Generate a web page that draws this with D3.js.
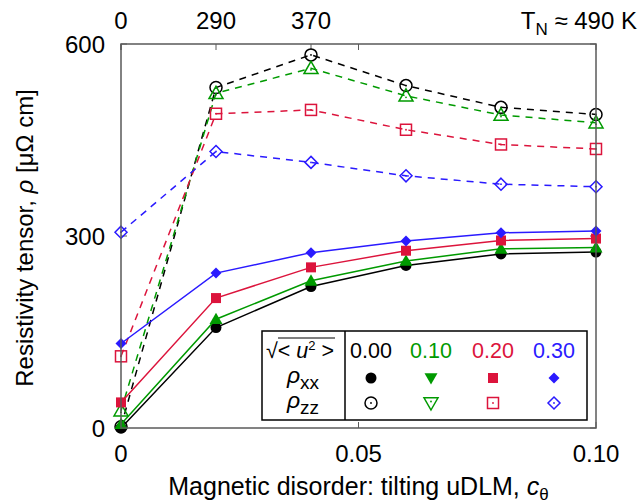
<!DOCTYPE html>
<html><head><meta charset="utf-8">
<script src="https://cdn.jsdelivr.net/npm/d3@7"></script>
<style>
html,body{margin:0;padding:0;background:#fff;}
svg{display:block;font-family:"Liberation Sans",Arial,sans-serif;}
</style></head>
<body><svg id="c" width="642" height="503"></svg>
<script>
// ---- data ----
const cTheta = [0, 0.02, 0.04, 0.06, 0.08, 0.10];
const rmsU = ["0.00", "0.10", "0.20", "0.30"];
const rhoXX_000 = [0, 157, 221, 254, 272, 275];
const rhoXX_010 = [6, 170, 230, 261, 280, 282];
const rhoXX_020 = [40, 203, 251, 277, 293, 296];
const rhoXX_030 = [132, 242, 274, 292, 305, 308];
const rhoZZ_000 = [2, 532, 583, 535, 501, 490];
const rhoZZ_010 = [27, 523, 562, 519, 489, 477];
const rhoZZ_020 = [112, 491, 497, 466, 443, 436];
const rhoZZ_030 = [306, 432, 415, 394, 381, 377];
const xTicks = [0, 0.05, 0.10];
const xTickLabels = ["0", "0.05", "0.10"];
const yTicks = [0, 300, 600];
const topTicks = [0, 0.02, 0.04];
const topTickLabels = ["0", "290", "370"];
const colors = ["#000000", "#009a00", "#dc143c", "#2a1aff"];

const svg = d3.select("#c");
const L = 121, R = 596, T = 44, B = 428;
const x = d3.scaleLinear().domain([0, 0.10]).range([L, R]);
const y = d3.scaleLinear().domain([0, 600]).range([B, T]);

const frameColor = "#5a5a5a";
const fs = 24;

// ticks (inward)
const tk = 6;
const g = svg.append("g");
xTicks.forEach(v => {
  g.append("line").attr("x1", x(v)).attr("x2", x(v)).attr("y1", B).attr("y2", B - tk).attr("stroke", frameColor).attr("stroke-width", 1);
  g.append("line").attr("x1", x(v)).attr("x2", x(v)).attr("y1", T).attr("y2", T + tk).attr("stroke", frameColor).attr("stroke-width", 1);
});
topTicks.forEach(v => {
  g.append("line").attr("x1", x(v)).attr("x2", x(v)).attr("y1", T).attr("y2", T + tk).attr("stroke", frameColor).attr("stroke-width", 1);
});
yTicks.forEach(v => {
  g.append("line").attr("x1", L).attr("x2", L + tk).attr("y1", y(v)).attr("y2", y(v)).attr("stroke", frameColor).attr("stroke-width", 1);
  g.append("line").attr("x1", R).attr("x2", R - tk).attr("y1", y(v)).attr("y2", y(v)).attr("stroke", frameColor).attr("stroke-width", 1);
});

// tick labels
xTicks.forEach((v, i) => {
  svg.append("text").attr("x", x(v)).attr("y", 462).attr("text-anchor", "middle").attr("font-size", fs).text(xTickLabels[i]);
});
topTicks.forEach((v, i) => {
  svg.append("text").attr("x", x(v)).attr("y", 29).attr("text-anchor", "middle").attr("font-size", fs).text(topTickLabels[i]);
});
yTicks.forEach(v => {
  svg.append("text").attr("x", 105).attr("y", y(v) + 8.5).attr("text-anchor", "end").attr("font-size", fs).text(v);
});

// axis labels
const xl = svg.append("text").attr("x", x(0.05)).attr("y", 495).attr("text-anchor", "middle").attr("font-size", 25);
xl.append("tspan").text("Magnetic disorder: tilting uDLM, ");
xl.append("tspan").attr("font-style", "italic").text("c");
xl.append("tspan").attr("font-size", 17).attr("dy", 5).text("θ");

const yl = svg.append("text").attr("transform", `translate(33,${(T + B) / 2 + 2}) rotate(-90)`).attr("text-anchor", "middle").attr("font-size", 24);
yl.append("tspan").text("Resistivity tensor, ");
yl.append("tspan").attr("font-style", "italic").text("ρ");
yl.append("tspan").text(" [μΩ cm]");

const tn = svg.append("text").attr("x", 637).attr("y", 29).attr("text-anchor", "end").attr("font-size", fs);
tn.append("tspan").text("T");
tn.append("tspan").attr("font-size", 17).attr("dy", 6).text("N");
tn.append("tspan").attr("dy", -6).text(" ≈ 490 K");

// markers
function marker(sel, type, cx, cy, col, open) {
  const sw = 1.5;
  let el;
  if (type === "circle") {
    el = sel.append("circle").attr("cx", cx).attr("cy", cy).attr("r", open ? 6 : 5.5);
  } else if (type === "tri" || type === "tridown") {
    const s = open ? 7 : 6.5, d = type === "tri" ? 1 : -1;
    const p = d3.path();
    p.moveTo(cx, cy - d * s * 1.0);
    p.lineTo(cx + s, cy + d * s * 0.75);
    p.lineTo(cx - s, cy + d * s * 0.75);
    p.closePath();
    el = sel.append("path").attr("d", p.toString());
  } else if (type === "square") {
    const s = open ? 5.5 : 5;
    el = sel.append("rect").attr("x", cx - s).attr("y", cy - s).attr("width", 2 * s).attr("height", 2 * s);
  } else if (type === "diamond") {
    const s = open ? 6 : 5.5;
    const p = d3.path();
    p.moveTo(cx, cy - s); p.lineTo(cx + s, cy); p.lineTo(cx, cy + s); p.lineTo(cx - s, cy); p.closePath();
    el = sel.append("path").attr("d", p.toString());
  }
  if (open) {
    el.attr("fill", "#fff").attr("fill-opacity", 0).attr("stroke", col).attr("stroke-width", sw);
    sel.append("circle").attr("cx", cx).attr("cy", cy + (type === "tri" ? 1.5 : type === "tridown" ? -1.5 : 0)).attr("r", 0.9).attr("fill", col);
  } else {
    el.attr("fill", col);
  }
}

const types = ["circle", "tri", "square", "diamond"];
const zz = [rhoZZ_000, rhoZZ_010, rhoZZ_020, rhoZZ_030];
const xx = [rhoXX_000, rhoXX_010, rhoXX_020, rhoXX_030];

const line = d3.line().x(d => x(d[0])).y(d => y(d[1]));
const plot = svg.append("g");

// dashed rho_zz
zz.forEach((arr, i) => {
  const pts = cTheta.map((c, j) => [c, arr[j]]);
  plot.append("path").attr("d", line(pts)).attr("fill", "none").attr("stroke", colors[i]).attr("stroke-width", 1.5).attr("stroke-dasharray", "7,6");
  pts.forEach(p => marker(plot, types[i], x(p[0]), y(p[1]), colors[i], true));
});
// solid rho_xx
xx.forEach((arr, i) => {
  const pts = cTheta.map((c, j) => [c, arr[j]]);
  plot.append("path").attr("d", line(pts)).attr("fill", "none").attr("stroke", colors[i]).attr("stroke-width", 1.5);
  pts.forEach(p => marker(plot, types[i], x(p[0]), y(p[1]), colors[i], false));
});

// frame
svg.append("rect").attr("x", L).attr("y", T).attr("width", R - L).attr("height", B - T).attr("fill", "none").attr("stroke", frameColor).attr("stroke-width", 1.5);

// legend
const lg = svg.append("g");
const bx0 = 262, bx1 = 587, by0 = 331, by1 = 420, div = 345;
lg.append("rect").attr("x", bx0).attr("y", by0).attr("width", bx1 - bx0).attr("height", by1 - by0).attr("fill", "#fff").attr("stroke", "#000").attr("stroke-width", 1.5);
lg.append("line").attr("x1", div).attr("x2", div).attr("y1", by0).attr("y2", by1).attr("stroke", "#000").attr("stroke-width", 1.5);
const lfs = 21.5;
// header sqrt(<u^2>)
const h = lg.append("text").attr("x", 266).attr("y", 358).attr("font-size", lfs);
h.append("tspan").text("√");
h.append("tspan").text("< ");
h.append("tspan").attr("font-style", "italic").text("u");
h.append("tspan").attr("font-size", 13).attr("dy", -8).text("2");
h.append("tspan").attr("dy", 8).text(" >");
lg.append("line").attr("x1", 278).attr("x2", 335).attr("y1", 338).attr("y2", 338).attr("stroke", "#000").attr("stroke-width", 1);

const rowY = [378, 403];
[["xx", 0], ["zz", 1]].forEach(([sub, r]) => {
  const t = lg.append("text").attr("x", 303).attr("y", rowY[r] + 5).attr("text-anchor", "middle").attr("font-size", 23);
  t.append("tspan").attr("font-style", "italic").text("ρ");
  t.append("tspan").attr("font-size", 19).attr("dy", 6).text(sub);
});
const colX = [371, 431, 493, 554];
const legTypes = ["circle", "tridown", "square", "diamond"];
rmsU.forEach((u, i) => {
  lg.append("text").attr("x", colX[i]).attr("y", 358).attr("text-anchor", "middle").attr("font-size", lfs).attr("fill", colors[i]).text(u);
  marker(lg, legTypes[i], colX[i], rowY[0], colors[i], false);
  marker(lg, legTypes[i], colX[i], rowY[1], colors[i], true);
});
</script></body></html>
